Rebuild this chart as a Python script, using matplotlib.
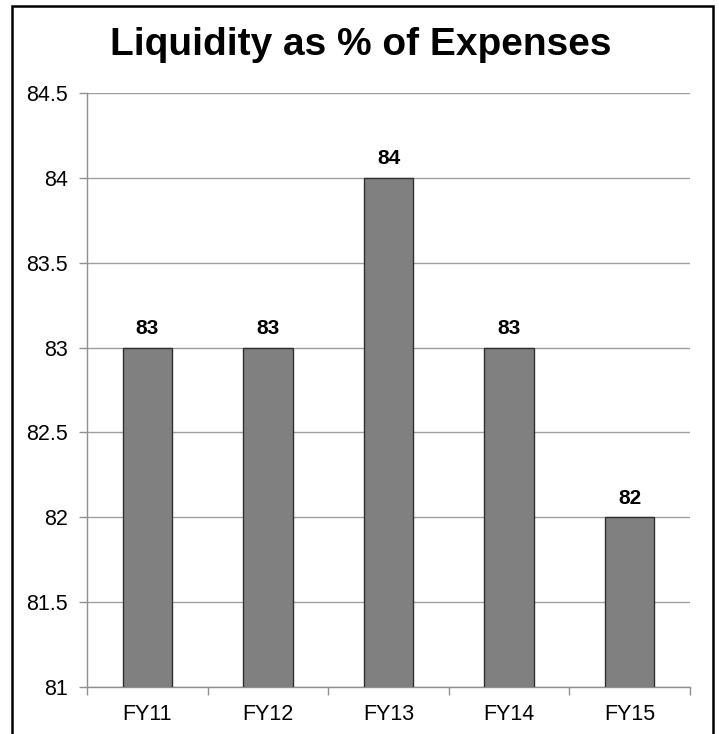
import matplotlib
matplotlib.use("Agg")
import matplotlib.pyplot as plt
from matplotlib.patches import Rectangle

categories = ["FY11", "FY12", "FY13", "FY14", "FY15"]
values = [83, 83, 84, 83, 82]
yticks = [81, 81.5, 82, 82.5, 83, 83.5, 84, 84.5]
ytick_labels = ["81", "81.5", "82", "82.5", "83", "83.5", "84", "84.5"]

plt.rcParams['font.family'] = ['Liberation Sans', 'DejaVu Sans']

W, H = 719, 734
fig = plt.figure(figsize=(W/100, H/100), dpi=100)
ax = fig.add_axes([87/W, 1-687/H, (690-87)/W, (687-93)/H])

x = list(range(len(categories)))
ax.bar(x, values, width=0.41, color="#808080", edgecolor="#303030", linewidth=1.0, zorder=3)
for xi, v in zip(x, values):
    ax.annotate(f"{v:g}", (xi, v), xytext=(0, 7), textcoords="offset points",
                ha="center", va="bottom", fontsize=15, fontweight="bold", color="black")

ax.set_xlim(-0.5, len(categories) - 0.5)
ax.set_ylim(81, 84.5)
ax.set_yticks(yticks)
ax.set_yticklabels(ytick_labels, fontsize=15.5)
ax.set_xticks(x)
ax.set_xticklabels(categories, fontsize=15.5)
ax.set_xticks([i - 0.5 for i in range(len(categories) + 1)], minor=True)
ax.tick_params(axis="x", which="major", length=0, pad=12)
ax.tick_params(axis="x", which="minor", length=6, color="#909090", width=1)
ax.tick_params(axis="y", length=6, color="#909090", width=1, pad=8)
ax.grid(axis="y", color="#a0a0a0", linewidth=1, zorder=0)
for s in ["top", "right"]:
    ax.spines[s].set_visible(False)
for s in ["left", "bottom"]:
    ax.spines[s].set_color("#909090")
    ax.spines[s].set_linewidth(1)

fig.text(361/W, 1-45/H, "Liquidity as % of Expenses", ha="center", va="center",
         fontsize=28, fontweight="bold")

border = Rectangle((11.5/W, -0.05), (712.5-11.5)/W, (1-5.5/H) + 0.05, transform=fig.transFigure,
                   fill=False, edgecolor="black", linewidth=1.8, clip_on=False)
fig.patches.append(border)

fig.savefig("out.png", dpi=100)
